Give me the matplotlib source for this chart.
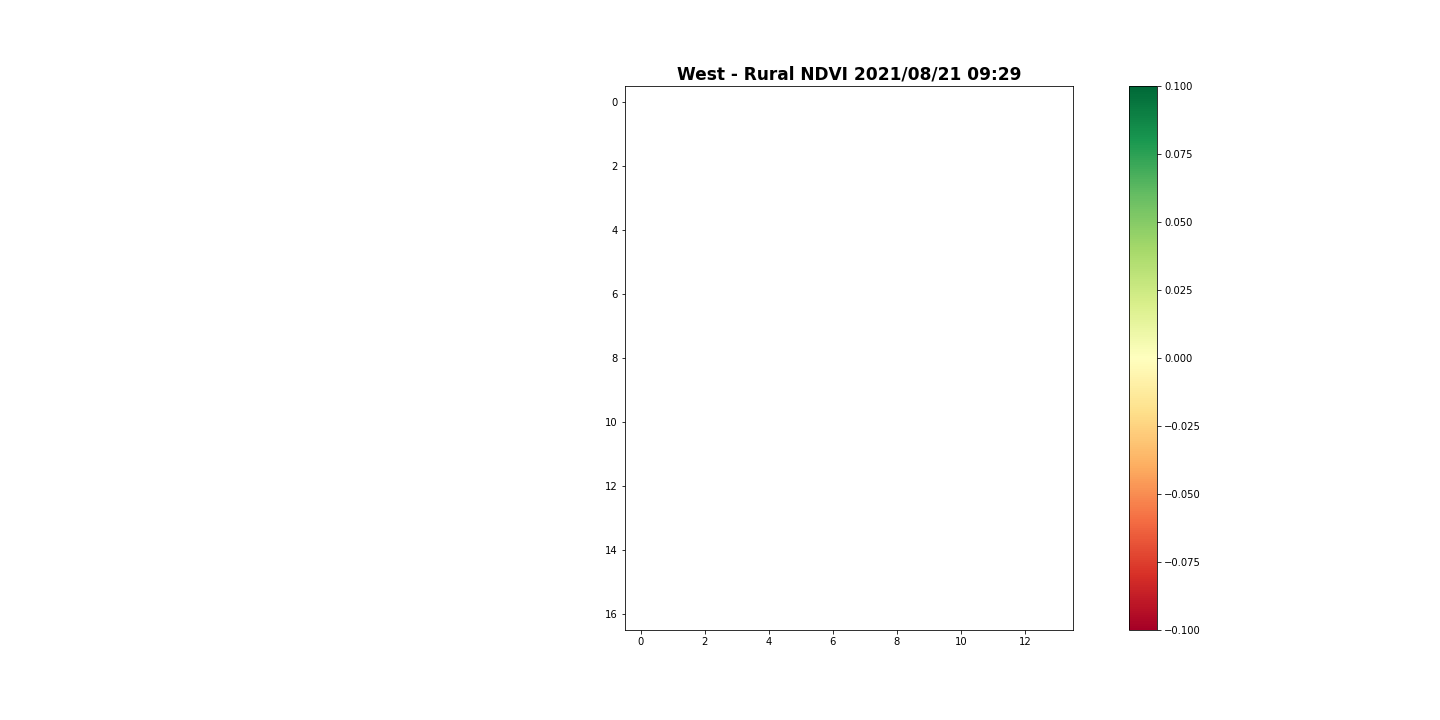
import numpy as np
import matplotlib
matplotlib.use("Agg")
import matplotlib.pyplot as plt

# ---------- DATA ------------
title = "West - Rural NDVI 2021/08/21 09:29"
n_rows = 17
n_cols = 14
# no valid pixels in this scene -> every cell is NaN
ndvi = np.full((n_rows, n_cols), np.nan)
vmin, vmax = -0.1, 0.1
# ----------------------------

fig = plt.figure(figsize=(20, 10), dpi=72)
ax = fig.add_axes([0.434, 0.125, 0.311, 0.7556])
cax = fig.add_axes([0.784, 0.125, 0.0194, 0.7556])

im = ax.imshow(ndvi, cmap="RdYlGn", vmin=vmin, vmax=vmax, aspect="auto")
ax.set_title(title, fontsize=17, fontweight="bold")
fig.colorbar(im, cax=cax)

fig.savefig("out.png", dpi=72)
